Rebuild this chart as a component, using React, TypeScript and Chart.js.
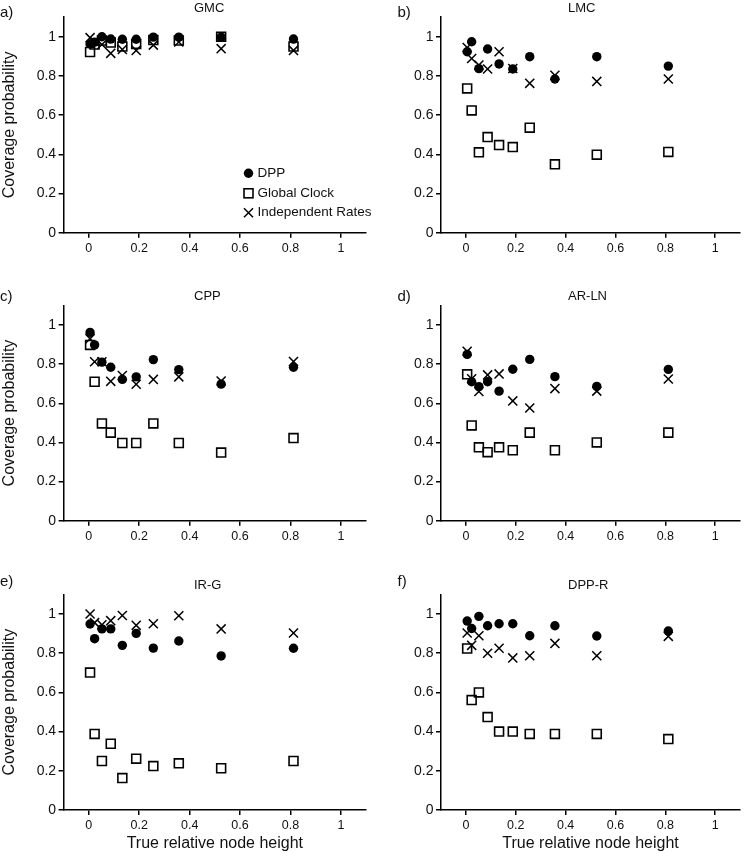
import React, { useEffect, useRef } from 'react';
import { Chart, registerables } from 'chart.js';

Chart.register(...registerables);

const FONT = '"Liberation Sans", Arial, Helvetica, sans-serif';
Chart.defaults.font.family = FONT;
Chart.defaults.color = '#111';

// ---- data ----
const nodeHeights = [0.005, 0.023, 0.052, 0.087, 0.133, 0.188, 0.256, 0.357, 0.525, 0.812];
const seriesNames = ['DPP', 'Global Clock', 'Independent Rates'];
const xTickValues = [0, 0.2, 0.4, 0.6, 0.8, 1];
const yTickValues = [0, 0.2, 0.4, 0.6, 0.8, 1];

const gmcDPP = [0.963, 0.972, 1.0, 0.988, 0.987, 0.987, 0.998, 0.998, 0.998, 0.988];
const gmcGlobal = [0.922, 0.96, 0.98, 0.97, 0.95, 0.963, 0.983, 0.98, 1.0, 0.95];
const gmcIndep = [0.995, 0.975, 0.96, 0.915, 0.935, 0.93, 0.957, 0.973, 0.939, 0.93];

const lmcDPP = [0.923, 0.974, 0.837, 0.937, 0.861, 0.835, 0.898, 0.784, 0.898, 0.85];
const lmcGlobal = [0.736, 0.624, 0.41, 0.488, 0.447, 0.437, 0.536, 0.349, 0.398, 0.412];
const lmcIndep = [0.945, 0.889, 0.855, 0.835, 0.923, 0.838, 0.762, 0.803, 0.772, 0.784];

const cppDPP = [0.962, 0.898, 0.81, 0.784, 0.722, 0.735, 0.823, 0.772, 0.698, 0.784];
const cppGlobal = [0.898, 0.71, 0.497, 0.45, 0.397, 0.397, 0.497, 0.397, 0.348, 0.422];
const cppIndep = [0.93, 0.812, 0.812, 0.712, 0.742, 0.697, 0.722, 0.735, 0.714, 0.813];

const arlnDPP = [0.85, 0.71, 0.685, 0.71, 0.662, 0.774, 0.824, 0.736, 0.686, 0.773];
const arlnGlobal = [0.748, 0.487, 0.375, 0.35, 0.375, 0.36, 0.45, 0.36, 0.4, 0.45];
const arlnIndep = [0.866, 0.725, 0.66, 0.745, 0.75, 0.612, 0.576, 0.675, 0.662, 0.724];

const irgDPP = [0.949, 0.874, 0.924, 0.924, 0.84, 0.901, 0.826, 0.862, 0.786, 0.825];
const irgGlobal = [0.701, 0.388, 0.25, 0.338, 0.163, 0.262, 0.224, 0.238, 0.213, 0.25];
const irgIndep = [1.0, 0.956, 0.945, 0.966, 0.992, 0.942, 0.95, 0.991, 0.924, 0.903];

const dpprDPP = [0.964, 0.926, 0.988, 0.94, 0.95, 0.95, 0.889, 0.94, 0.888, 0.913];
const dpprGlobal = [0.824, 0.561, 0.6, 0.474, 0.4, 0.4, 0.388, 0.388, 0.388, 0.362];
const dpprIndep = [0.903, 0.84, 0.889, 0.8, 0.825, 0.776, 0.787, 0.85, 0.787, 0.886];

type Panel = {
  label: string;
  title: string;
  dpp: number[];
  global: number[];
  indep: number[];
  col: number;
  row: number;
};

const panels: Panel[] = [
  { label: 'a)', title: 'GMC', dpp: gmcDPP, global: gmcGlobal, indep: gmcIndep, col: 0, row: 0 },
  { label: 'b)', title: 'LMC', dpp: lmcDPP, global: lmcGlobal, indep: lmcIndep, col: 1, row: 0 },
  { label: 'c)', title: 'CPP', dpp: cppDPP, global: cppGlobal, indep: cppIndep, col: 0, row: 1 },
  { label: 'd)', title: 'AR-LN', dpp: arlnDPP, global: arlnGlobal, indep: arlnIndep, col: 1, row: 1 },
  { label: 'e)', title: 'IR-G', dpp: irgDPP, global: irgGlobal, indep: irgIndep, col: 0, row: 2 },
  { label: 'f)', title: 'DPP-R', dpp: dpprDPP, global: dpprGlobal, indep: dpprIndep, col: 1, row: 2 },
];

// ---- layout ----
const COL_X = [0, 374];
const COL_W = 374;
const ROW_Y = [0, 280, 560];
const ROW_H = [280, 280, 293];
const CHART_LEFT = [63.6, 67];
const CHART_RIGHT = [372.4, 373.6];
const CHART_TOP = [17.1, 25.4, 34.4];
const CHART_BOTTOM = [232.7, 240.7, 250];
const LABEL_X = [0, 23.5];
const LABEL_Y = [12.5, 17, 22];

const fmt = (v: any) => String(Number(Number(v).toFixed(2)));

const panelTextPlugin = {
  id: 'panelText',
  afterDraw(chart: any, _args: any, opts: any) {
    const ctx = chart.ctx as CanvasRenderingContext2D;
    ctx.save();
    ctx.fillStyle = '#111';
    ctx.textBaseline = 'middle';
    ctx.textAlign = 'left';
    ctx.font = `15px ${FONT}`;
    ctx.fillText(opts.label, opts.labelX, opts.labelY);
    ctx.font = `13px ${FONT}`;
    ctx.fillText(opts.title, 194, chart.chartArea.top - 9);
    if (opts.legend) {
      const mx = 248.5;
      const tx = 257.5;
      const ys = [173.3, 193.3, 212.7];
      ctx.strokeStyle = '#000';
      ctx.fillStyle = '#000';
      // circle
      ctx.beginPath();
      ctx.arc(mx, ys[0], 4.7, 0, Math.PI * 2);
      ctx.fill();
      // square
      ctx.lineWidth = 1.6;
      ctx.strokeRect(mx - 4.5, ys[1] - 4.5, 9, 9);
      // cross
      ctx.lineWidth = 1.5;
      ctx.beginPath();
      ctx.moveTo(mx - 4.5, ys[2] - 4.5);
      ctx.lineTo(mx + 4.5, ys[2] + 4.5);
      ctx.moveTo(mx + 4.5, ys[2] - 4.5);
      ctx.lineTo(mx - 4.5, ys[2] + 4.5);
      ctx.stroke();
      ctx.fillStyle = '#111';
      ctx.font = `13.5px ${FONT}`;
      chart.data.datasets.forEach((ds: any, i: number) => {
        ctx.fillText(ds.label, tx, ys[i]);
      });
    }
    ctx.restore();
  },
};

const toPoints = (ys: number[]) => ys.map((y, i) => ({ x: nodeHeights[i], y }));

function PanelChart({ p }: { p: Panel }) {
  const ref = useRef<HTMLCanvasElement | null>(null);
  const h = ROW_H[p.row];
  useEffect(() => {
    if (!ref.current) return;
    const isLeft = p.col === 0;
    const isBottom = p.row === 2;
    const chartLeft = CHART_LEFT[p.col];
    const padRight = COL_W - CHART_RIGHT[p.col];
    const chartTop = CHART_TOP[p.row];
    const chartBottom = CHART_BOTTOM[p.row];
    const chart = new Chart(ref.current, {
      type: 'scatter',
      data: {
        datasets: [
          {
            label: seriesNames[0],
            data: toPoints(p.dpp),
            pointStyle: 'circle',
            pointRadius: 4.7,
            pointBackgroundColor: '#000',
            pointBorderColor: '#000',
            pointBorderWidth: 0,
            order: 1,
          },
          {
            label: seriesNames[1],
            data: toPoints(p.global),
            pointStyle: 'rect',
            pointRadius: 6.3,
            pointBackgroundColor: 'rgba(0,0,0,0)',
            pointBorderColor: '#000',
            pointBorderWidth: 1.6,
            order: 2,
          },
          {
            label: seriesNames[2],
            data: toPoints(p.indep),
            pointStyle: 'crossRot',
            pointRadius: 6.4,
            pointBorderColor: '#000',
            pointBorderWidth: 1.5,
            order: 0,
          },
        ],
      } as any,
      options: {
        animation: false,
        responsive: false,
        devicePixelRatio: 1,
        events: [],
        layout: { padding: { left: 0, right: padRight, top: chartTop, bottom: 0 } },
        plugins: {
          legend: { display: false },
          tooltip: { enabled: false },
          title: { display: false },
          panelText: {
            label: p.label,
            labelX: LABEL_X[p.col],
            labelY: LABEL_Y[p.row],
            title: p.title,
            legend: p.row === 0 && p.col === 0,
          },
        } as any,
        scales: {
          x: {
            type: 'linear',
            position: 'bottom',
            min: -0.1,
            max: 1.1,
            afterBuildTicks: (s: any) => {
              s.ticks = xTickValues.map((v) => ({ value: v }));
            },
            afterFit: (s: any) => {
              s.height = h - chartBottom;
            },
            ticks: { font: { size: 12.5 }, color: '#111', padding: 3, maxRotation: 0, autoSkip: false, callback: fmt },
            grid: { display: true, drawOnChartArea: false, drawTicks: true, tickLength: 5, color: '#000', lineWidth: 1.5 },
            border: { display: true, color: '#000', width: 1.5 },
            title: {
              display: isBottom,
              text: 'True relative node height',
              font: { size: 16, lineHeight: 1 },
              color: '#111',
              padding: { top: 0, bottom: 1 },
            },
          },
          y: {
            type: 'linear',
            position: 'left',
            min: 0,
            max: 1.1,
            afterBuildTicks: (s: any) => {
              s.ticks = yTickValues.map((v) => ({ value: v }));
            },
            afterFit: (s: any) => {
              s.width = chartLeft;
            },
            ticks: { font: { size: 14 }, color: '#111', padding: 2.5, autoSkip: false, callback: fmt },
            grid: { display: true, drawOnChartArea: false, drawTicks: true, tickLength: 5, color: '#000', lineWidth: 1.5 },
            border: { display: true, color: '#000', width: 1.5 },
            title: {
              display: isLeft,
              text: 'Coverage probability',
              font: { size: 16, lineHeight: 1 },
              color: '#111',
              padding: { top: 1.5, bottom: 0 },
            },
          },
        },
      } as any,
      plugins: [panelTextPlugin as any],
    });
    return () => chart.destroy();
  }, [p, h]);
  return (
    <canvas
      ref={ref}
      width={COL_W}
      height={h}
      style={{ position: 'absolute', left: COL_X[p.col], top: ROW_Y[p.row], width: COL_W, height: h }}
    />
  );
}

export default function App() {
  return (
    <div style={{ position: 'fixed', left: 0, top: 0, width: 748, height: 853, background: '#fff' }}>
      {panels.map((p) => (
        <PanelChart key={p.label} p={p} />
      ))}
    </div>
  );
}
